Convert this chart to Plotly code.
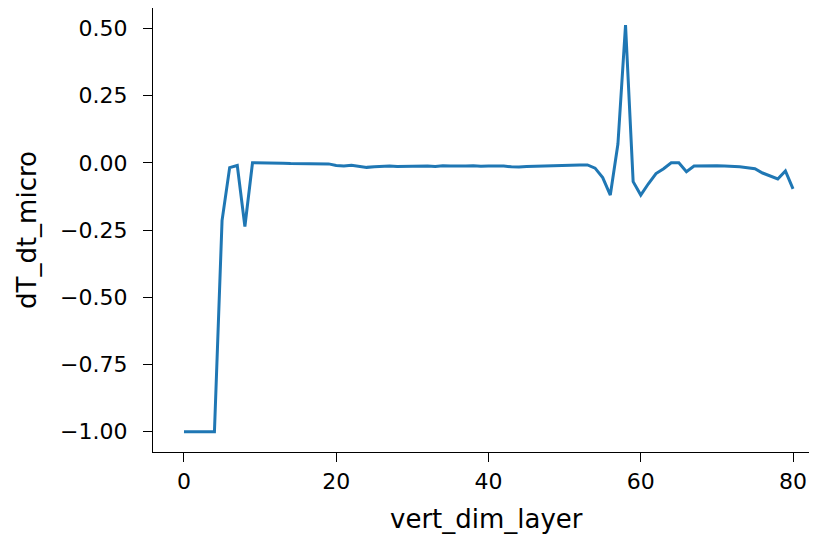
import plotly.graph_objects as go

layers = list(range(81))
dT_dt_micro = [
    -1.0, -1.0, -1.0, -1.0, -1.0, -0.215, -0.018, -0.01, -0.237, 0.0,
    0.0, -0.001, -0.002, -0.002, -0.003, -0.003, -0.004, -0.004, -0.004, -0.004,
    -0.010, -0.012, -0.009, -0.014, -0.017, -0.015, -0.013, -0.012, -0.014, -0.013,
    -0.012, -0.011, -0.012, -0.014, -0.011, -0.012, -0.013, -0.012, -0.011, -0.013,
    -0.012, -0.011, -0.012, -0.015, -0.016, -0.014, -0.013, -0.011, -0.010, -0.011,
    -0.009, -0.008, -0.008, -0.008, -0.020, -0.055, -0.120, 0.070, 0.512, -0.070,
    -0.120, -0.078, -0.040, -0.022, 0.0, 0.0, -0.033, -0.012, -0.011, -0.011,
    -0.011, -0.012, -0.013, -0.015, -0.018, -0.022, -0.038, -0.050, -0.060, -0.030,
    -0.097,
]
x_ticks = [0, 20, 40, 60, 80]
y_ticks = [-1.0, -0.75, -0.5, -0.25, 0.0, 0.25, 0.5]
y_tick_labels = ["\u22121.00", "\u22120.75", "\u22120.50", "\u22120.25", "0.00", "0.25", "0.50"]
x_title = "vert_dim_layer"
y_title = "dT_dt_micro"

FONT = "DejaVu Sans"
TICK_SIZE = 22
TITLE_SIZE = 26

fig = go.Figure()
fig.add_trace(go.Scatter(x=layers, y=dT_dt_micro, mode="lines",
                         line=dict(color="#1f77b4", width=3), showlegend=False))

fig.update_layout(
    width=809, height=526,
    margin=dict(l=145, r=0, t=0, b=82, autoexpand=False),
    paper_bgcolor="white", plot_bgcolor="white",
    font=dict(family=FONT, size=TICK_SIZE, color="black"),
    xaxis=dict(range=[-4.07, 83.15], tickvals=x_ticks, ticks="outside", ticklen=9,
               tickwidth=1.3, tickcolor="black", showline=True, linecolor="black",
               linewidth=1.3, mirror=True, showgrid=False, zeroline=False,
               ticklabelstandoff=0, automargin=False),
    yaxis=dict(range=[-1.0755, 0.5757], tickvals=y_ticks, ticktext=y_tick_labels,
               ticks="outside", ticklen=9, tickwidth=1.3, tickcolor="black",
               showline=True, linecolor="black", linewidth=1.3, mirror=False,
               showgrid=False, zeroline=False, ticklabelstandoff=11, automargin=False),
    annotations=[
        dict(text=x_title, xref="paper", yref="paper", x=(478 - 145) / 664, y=0,
             xanchor="center", yanchor="middle", yshift=-67, showarrow=False,
             font=dict(family=FONT, size=TITLE_SIZE, color="black")),
        dict(text=y_title, xref="paper", yref="paper", x=0, y=0.5,
             xanchor="center", yanchor="middle", xshift=-126, textangle=-90,
             showarrow=False, font=dict(family=FONT, size=TITLE_SIZE, color="black")),
    ],
)
fig.write_html("out.html")
